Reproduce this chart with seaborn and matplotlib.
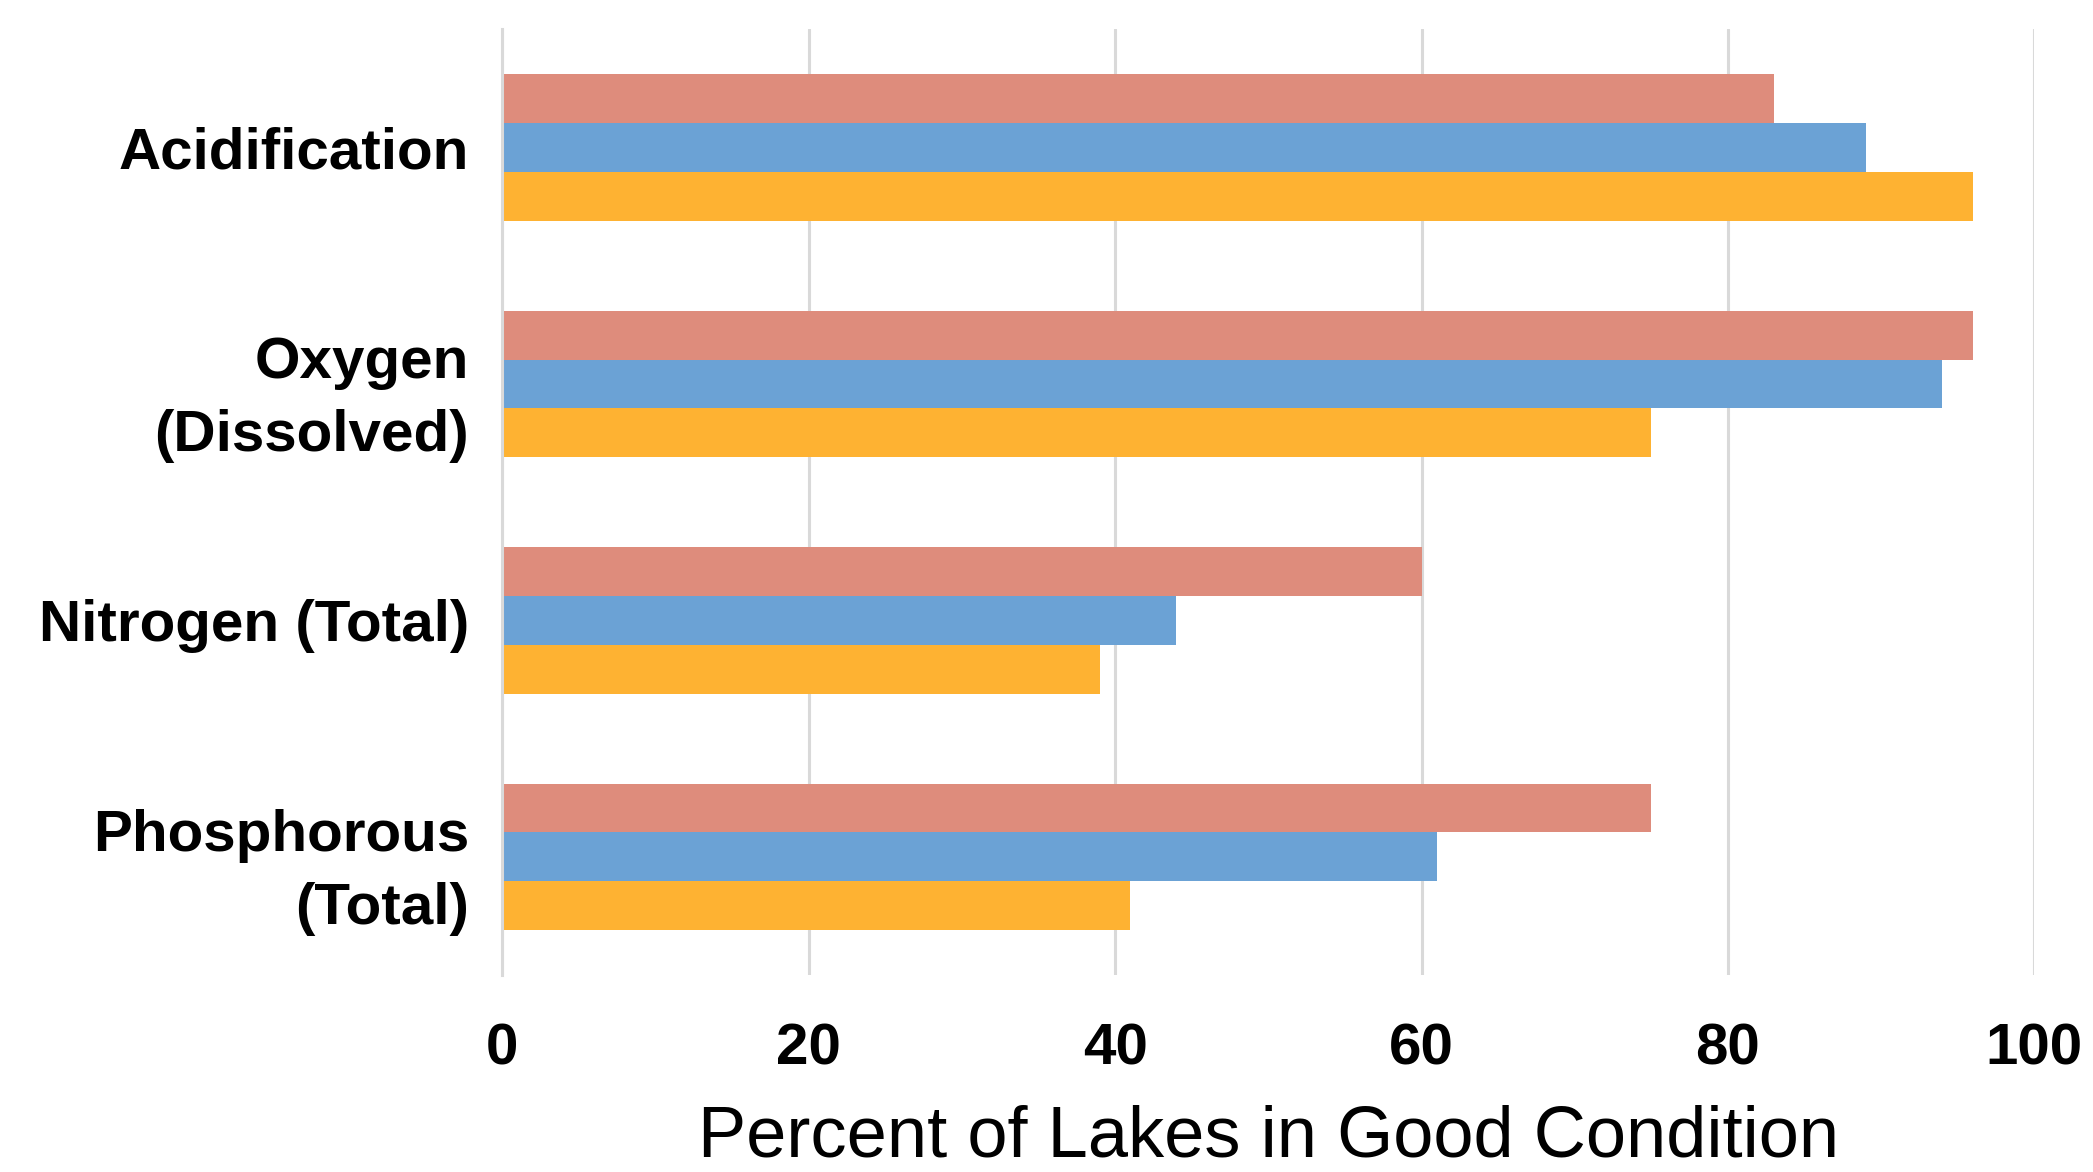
import pandas as pd
import seaborn as sns
import matplotlib.pyplot as plt

# Values
categories = ["Acidification", "Oxygen\n(Dissolved)", "Nitrogen (Total)", "Phosphorous\n(Total)"]
series_names = ["Series 1", "Series 2", "Series 3"]
series_1 = [83, 96, 60, 75]
series_2 = [89, 94, 44, 61]
series_3 = [96, 75, 39, 41]
colors = ["#DE8C7C", "#6BA2D5", "#FEB232"]
x_ticks = [0, 20, 40, 60, 80, 100]

# Build long-form table for seaborn
rows = []
for name, vals in zip(series_names, [series_1, series_2, series_3]):
    for cat, v in zip(categories, vals):
        rows.append({"category": cat, "series": name, "value": v})
df = pd.DataFrame(rows)

sns.set_style("white")
plt.rcParams['font.family'] = ['Liberation Sans', 'DejaVu Sans']
plt.rcParams['text.color'] = 'black'
plt.rcParams['xtick.color'] = 'black'
plt.rcParams['ytick.color'] = 'black'
plt.rcParams['axes.labelcolor'] = 'black'

fig = plt.figure(figsize=(20.93, 11.72), dpi=100)
ax = fig.add_axes([0.240, 0.168, 0.732, 0.807])

sns.barplot(data=df, y="category", x="value", hue="series", order=categories,
            hue_order=series_names, palette=colors, orient="h", width=0.62,
            gap=0, saturation=1, legend=False, linewidth=0, ax=ax)

ax.set_xlim(0, 100)
ax.set_xticks(x_ticks)
ax.xaxis.grid(True, color="#d9d9d9", linewidth=2.2)
ax.set_axisbelow(True)
for side in ["top", "right", "bottom"]:
    ax.spines[side].set_visible(False)
ax.spines["left"].set_color("#d9d9d9")
ax.spines["left"].set_linewidth(2.2)

ax.tick_params(axis="x", length=0, pad=34, labelsize=42)
ax.tick_params(axis="y", length=0, pad=24, labelsize=42)
for lab in ax.get_xticklabels() + ax.get_yticklabels():
    lab.set_fontweight("bold")
for lab in ax.get_yticklabels():
    lab.set_multialignment("right")
    lab.set_linespacing(1.45)

ax.set_ylabel("")
ax.set_xlabel("Percent of Lakes in Good Condition", fontsize=52, labelpad=20)

fig.savefig("out.png", dpi=100)
